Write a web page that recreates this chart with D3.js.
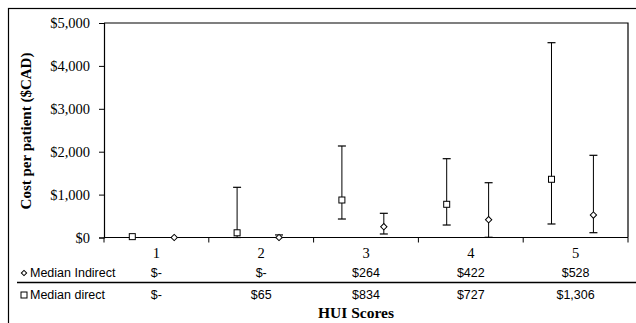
<!DOCTYPE html>
<html>
<head>
<meta charset="UTF-8">
<script src="https://d3js.org/d3.v7.min.js"></script>
<style>
  body { margin: 0; background: white; }
  svg { display: block; }
</style>
</head>
<body>
<svg id="chart" width="636" height="323"></svg>
<script>
  const categories = ["1", "2", "3", "4", "5"];
  // plotted points and error bar ends
  const directMid = [20, 110, 874, 774, 1357];
  const directLow = [20, 0, 431, 291, 315];
  const directHigh = [20, 1170, 2133, 1837, 4541];
  const indirectMid = [0, 0, 252, 415, 524];
  const indirectLow = [0, 0, 82, 5, 112];
  const indirectHigh = [0, 60, 564, 1277, 1916];
  // table rows
  const indirectLabels = ["$-", "$-", "$264", "$422", "$528"];
  const directLabels = ["$-", "$65", "$834", "$727", "$1,306"];
  const yTicks = [0, 1000, 2000, 3000, 4000, 5000];

  const svg = d3.select("#chart");
  const pLeft = 104, pRight = 628, pTop = 23, pBottom = 237.5;

  // outer frame
  svg.append("rect").attr("x", 8.5).attr("y", 8.5).attr("width", 640).attr("height", 330)
    .attr("fill", "none").attr("stroke", "#000").attr("stroke-width", 1.2);

  const x = d3.scaleBand().domain(categories).range([pLeft, pRight]);
  const y = d3.scaleLinear().domain([0, 5000]).range([pBottom, pTop]);

  // plot frame (top + right)
  svg.append("path")
    .attr("d", `M${pLeft},${pTop}H${pRight}V${pBottom}`)
    .attr("fill", "none").attr("stroke", "#000").attr("stroke-width", 1.2);

  const yAxis = svg.append("g")
    .attr("transform", `translate(${pLeft},0)`)
    .call(d3.axisLeft(y).tickValues(yTicks).tickSize(5).tickPadding(9)
      .tickFormat(d => "$" + d3.format(",")(d)));
  yAxis.selectAll("text").style("font-family", "Liberation Serif").style("font-size", "14.5px").attr("fill", "#000");
  yAxis.select(".domain").attr("stroke-width", 1.2);

  // x axis line with ticks at category boundaries
  const xAxis = svg.append("g").attr("transform", `translate(0,${pBottom})`);
  xAxis.append("line").attr("x1", pLeft).attr("x2", pRight).attr("stroke", "#000").attr("stroke-width", 1.2);
  const bounds = categories.map(c => x(c)).concat([x(categories[4]) + x.bandwidth()]);
  xAxis.selectAll(".tk").data(bounds).enter().append("line")
    .attr("x1", d => d).attr("x2", d => d).attr("y1", 0).attr("y2", 5)
    .attr("stroke", "#000");

  svg.selectAll(".cat").data(categories).enter().append("text")
    .attr("x", d => x(d) + x.bandwidth() / 2).attr("y", 258)
    .attr("text-anchor", "middle")
    .style("font-family", "Liberation Serif").style("font-size", "14.5px")
    .text(d => d);

  const dOff = -0.23, iOff = 0.17;
  const px = (c, off) => x(c) + x.bandwidth() * (0.5 + off);

  function bars(low, high, off) {
    const g = svg.append("g");
    categories.forEach((c, i) => {
      const cx = px(c, off);
      if (high[i] - low[i] > 0) {
        g.append("line").attr("x1", cx).attr("x2", cx).attr("y1", y(low[i])).attr("y2", y(high[i]))
          .attr("stroke", "#000");
        [low[i], high[i]].forEach(v => {
          g.append("line").attr("x1", cx - 4).attr("x2", cx + 4).attr("y1", y(v)).attr("y2", y(v))
            .attr("stroke", "#000").attr("stroke-width", 1.2);
        });
      }
    });
    return g;
  }
  bars(directLow, directHigh, dOff);
  bars(indirectLow, indirectHigh, iOff);

  // markers
  svg.selectAll(".sq").data(categories).enter().append("rect")
    .attr("x", (d) => px(d, dOff) - 3).attr("y", (d, i) => y(directMid[i]) - 3)
    .attr("width", 6).attr("height", 6)
    .attr("fill", "#fff").attr("stroke", "#000");
  const diamond = d3.symbol().type(d3.symbolSquare).size(20);
  svg.selectAll(".dm").data(categories).enter().append("path")
    .attr("d", diamond)
    .attr("transform", (d, i) => `translate(${px(d, iOff)},${y(indirectMid[i])}) rotate(45)`)
    .attr("fill", "#fff").attr("stroke", "#000");

  // table
  svg.append("line").attr("x1", 17).attr("x2", 640).attr("y1", 282.5).attr("y2", 282.5)
    .attr("stroke", "#000").attr("stroke-width", 1.3);
  svg.append("path").attr("d", d3.symbol().type(d3.symbolSquare).size(14))
    .attr("transform", "translate(24,273) rotate(45)")
    .attr("fill", "#fff").attr("stroke", "#000");
  svg.append("rect").attr("x", 21).attr("y", 292).attr("width", 6).attr("height", 6)
    .attr("fill", "#fff").attr("stroke", "#000");
  const tf = "Liberation Sans";
  const fs = "12.5px";
  svg.append("text").attr("x", 30).attr("y", 277).style("font-family", tf).style("font-size", fs).text("Median Indirect");
  svg.append("text").attr("x", 30).attr("y", 299).style("font-family", tf).style("font-size", fs).text("Median direct");
  svg.selectAll(".ri").data(indirectLabels).enter().append("text")
    .attr("x", (d, i) => x(categories[i]) + x.bandwidth() / 2).attr("y", 277)
    .attr("text-anchor", "middle").style("font-family", tf).style("font-size", fs).text(d => d);
  svg.selectAll(".rd").data(directLabels).enter().append("text")
    .attr("x", (d, i) => x(categories[i]) + x.bandwidth() / 2).attr("y", 299)
    .attr("text-anchor", "middle").style("font-family", tf).style("font-size", fs).text(d => d);

  // titles
  svg.append("text").attr("x", 356).attr("y", 318).attr("text-anchor", "middle")
    .style("font-family", "Liberation Serif").style("font-size", "15.5px").style("font-weight", "bold")
    .text("HUI Scores");
  svg.append("text").attr("transform", "translate(31,131) rotate(-90)").attr("text-anchor", "middle")
    .style("font-family", "Liberation Serif").style("font-size", "15px").style("font-weight", "bold")
    .text("Cost per patient ($CAD)");
</script>
</body>
</html>
